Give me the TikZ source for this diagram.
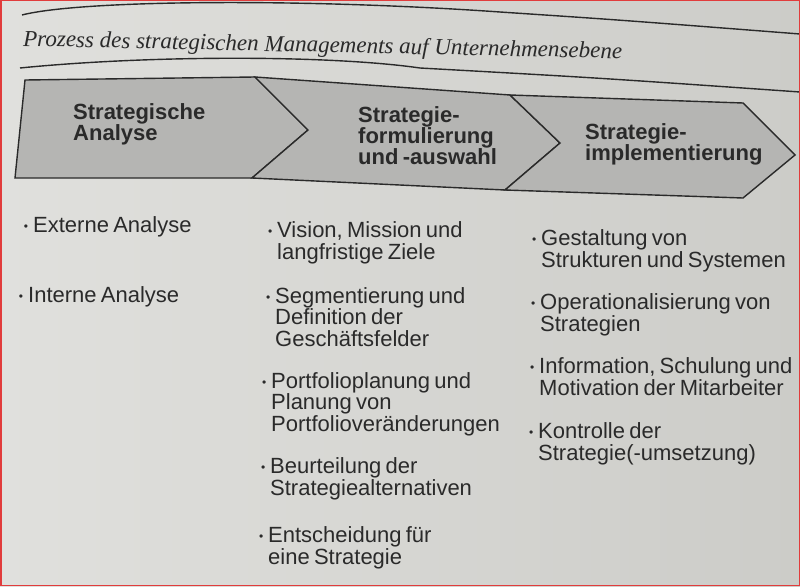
\documentclass[tikz,border=0pt]{standalone}
\usepackage{fontspec}
\newfontfamily\sansfont[WordSpace=0.7]{Liberation Sans}
\newfontfamily\seriffont{Liberation Serif}

\definecolor{paper}{RGB}{224,224,221}
\definecolor{paperdark}{RGB}{204,204,200}
\definecolor{band}{RGB}{181,181,179}
\definecolor{ink}{RGB}{42,42,42}
\definecolor{frame}{RGB}{225,60,60}

% bullet hanging left of the text
\newcommand{\itm}{\llap{\raisebox{2pt}{\fontsize{12}{12}\selectfont\textbullet}\hspace{5pt}}}

\tikzset{
  rule/.style={draw=ink, line width=1.4pt},
  phase/.style={draw=ink, line width=1.4pt, fill=band, line join=miter},
  phasetext/.style={anchor=base west, align=left, inner sep=0pt, text=ink,
    font=\sansfont\bfseries\fontsize{22}{21}\selectfont},
  item/.style={anchor=base west, align=left, inner sep=0pt, text=ink,
    font=\sansfont\fontsize{22}{21.5}\selectfont},
}

\begin{document}
\begin{tikzpicture}[x=1pt, y=-1pt]
\path [use as bounding box, left color=paper, right color=paperdark] (0,0) rectangle (800,586);

% rules round the title
\draw [rule] (22,15) .. controls (80,0) and (300,-2) .. (500,12) .. controls (620,20) .. (800,34);
\node [anchor=base west, inner sep=0pt, text=ink, rotate=-1.2,
  font=\seriffont\itshape\fontsize{23}{26}\selectfont] (title) at (23,46)
  {Prozess des strategischen Managements auf Unternehmensebene};
\draw [rule] (20,68) .. controls (150,55) and (330,55) .. (420,68) .. controls (600,78) .. (800,92);

% band corners
\coordinate (t0) at (25,80);
\coordinate (t1) at (255,77);
\coordinate (t2) at (510,95);
\coordinate (t3) at (743,103);
\coordinate (b0) at (15,178);
\coordinate (b1) at (252,178);
\coordinate (b2) at (505,190);
\coordinate (b3) at (743,198);
\coordinate (p1) at (308,130);
\coordinate (p2) at (560,143);
\coordinate (p3) at (795,155);

\draw [phase] (t0) -- (t1) -- (p1) -- (b1) -- (b0) -- cycle;
\draw [phase] (t1) -- (t2) -- (p2) -- (b2) -- (b1) -- (p1) -- cycle;
\draw [phase] (t2) -- (t3) -- (p3) -- (b3) -- (b2) -- (p2) -- cycle;

% base = baseline of the last line
\node [phasetext] (analyse) at (73,140) {Strategische\\Analyse};
\node [phasetext] (formulierung) at (358,164) {Strategie-\\formulierung\\und -auswahl};
\node [phasetext] (implementierung) at (585,160) {Strategie-\\implementierung};

% Analyse
\node [item] (extern) at (33,232) {\itm Externe Analyse};
\node [item] (intern) at (28,302) {\itm Interne Analyse};

% Formulierung und Auswahl
\node [item] (vision) at (277,259) {\itm Vision, Mission und\\langfristige Ziele};
\node [item] (segment) at (275,346) {\itm Segmentierung und\\Definition der\\Geschäftsfelder};
\node [item] (portfolio) at (271,431) {\itm Portfolioplanung und\\Planung von\\Portfolioveränderungen};
\node [item] (beurteilung) at (270,495) {\itm Beurteilung der\\Strategiealternativen};
\node [item] (entscheidung) at (268,564) {\itm Entscheidung für\\eine Strategie};

% Implementierung
\node [item] (gestaltung) at (541,267) {\itm Gestaltung von\\Strukturen und Systemen};
\node [item] (operation) at (540,331) {\itm Operationalisierung von\\Strategien};
\node [item] (information) at (539,395) {\itm Information, Schulung und\\Motivation der Mitarbeiter};
\node [item] (kontrolle) at (538,460) {\itm Kontrolle der\\Strategie(-umsetzung)};

\draw [frame, line width=1.5pt] (0.75,0.75) rectangle (799.25,585.25);
\end{tikzpicture}
\end{document}
